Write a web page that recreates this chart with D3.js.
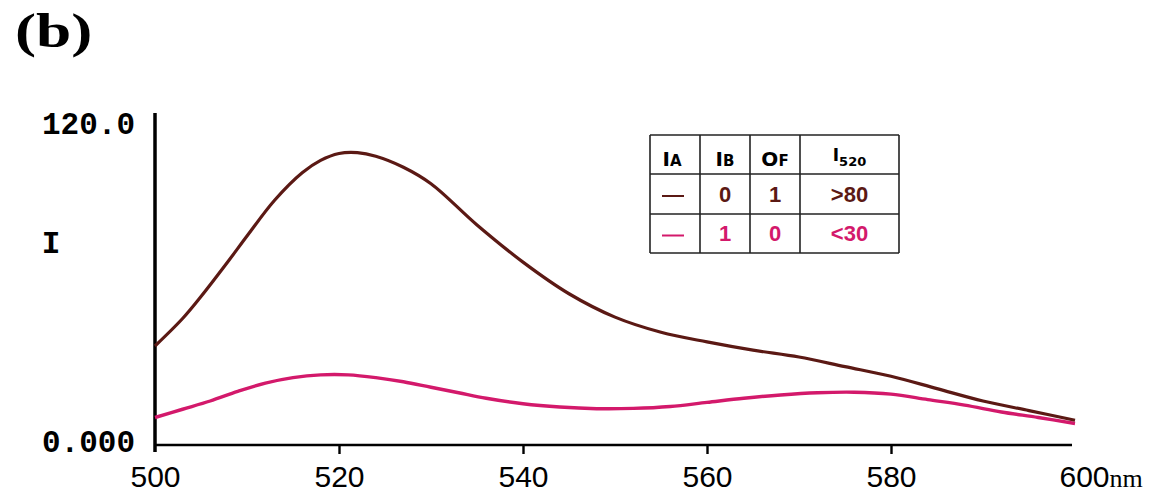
<!DOCTYPE html>
<html>
<head>
<meta charset="utf-8">
<script src="https://cdn.jsdelivr.net/npm/d3@7"></script>
<style>
    body { margin: 0; background: #fff; }
    svg { display: block; }
</style>
</head>
<body>
<svg id="chart"></svg>
<script>
// spectrum readings, wavelength (nm) vs intensity
const brownNm = [500, 503, 505, 508, 510, 513, 516, 518, 520, 522, 524, 527, 530, 535, 540, 545, 550, 555, 560, 565, 570, 575, 580, 585, 590, 595, 600];
const brownI  = [36, 46, 54, 67, 76, 89, 99, 103.5, 106, 106.3, 105, 101, 95, 80, 66.5, 55, 46.5, 41, 37.5, 34.5, 32, 28.5, 25, 20.5, 16, 12.5, 9];

const pinkNm = [500, 503, 506, 509, 512, 515, 518, 521, 524, 527, 530, 533, 536, 540, 544, 548, 552, 556, 560, 564, 568, 572, 576, 580, 584, 588, 592, 596, 600];
const pinkI  = [10, 13, 16, 19.5, 22.5, 24.5, 25.5, 25.5, 24.5, 23, 21, 19, 17, 15, 13.8, 13.2, 13.3, 14, 15.5, 17, 18.2, 19, 19.2, 18.5, 16.5, 14.5, 12, 10, 7.8];

const xTicks = [500, 520, 540, 560, 580, 600];
const yTicks = [0, 120];
const yTickLabels = ['0.000', '120.0'];

// truth table legend
const legendHeader = [['I', 'A'], ['I', 'B'], ['O', 'F'], ['I', '520']];
const legendRows = [
    ['', '0', '1', '>80'],
    ['', '1', '0', '<30']
];

const brown = '#5b1914';
const pink = '#d3196b';

const config = {
    width: 1167,
    height: 502,
    x0: 155, x1: 1075,
    y0: 445, y1: 115
};

const svg = d3.select('#chart')
    .attr('width', config.width)
    .attr('height', config.height);

const xScale = d3.scaleLinear().domain([500, 600]).range([config.x0, config.x1]);
const yScale = d3.scaleLinear().domain([0, 120]).range([config.y0, config.y1]);

// panel label
svg.append('text')
    .attr('transform', 'translate(15,47) scale(1.32,1)')
    .style('font-family', '"Liberation Serif", "Times New Roman", serif')
    .style('font-weight', 700)
    .style('font-size', '48px')
    .text('(b)');

// x axis
const xAxis = d3.axisBottom(xScale)
    .tickValues(xTicks)
    .tickSize(9)
    .tickPadding(12)
    .tickFormat(d => d);

const xAxisG = svg.append('g')
    .attr('transform', `translate(0,${config.y0})`)
    .call(xAxis);

xAxisG.select('.domain').remove();
xAxisG.append('line')
    .attr('x1', config.x0)
    .attr('x2', config.x1 - 3)
    .attr('stroke', '#000')
    .attr('stroke-width', 2.6);
xAxisG.selectAll('.tick line')
    .attr('stroke', '#000')
    .attr('stroke-width', 2.4)
    .style('display', d => (d === 500 || d === 600) ? 'none' : null);
xAxisG.selectAll('.tick text')
    .attr('fill', '#000')
    .style('font-family', '"Liberation Sans", Arial, sans-serif')
    .style('font-size', '30px');
// unit after the last tick
xAxisG.selectAll('.tick text')
    .filter(d => d === 600)
    .attr('text-anchor', 'start')
    .attr('dx', '-16')
    .append('tspan')
    .style('font-family', '"Liberation Serif", serif')
    .style('font-size', '26px')
    .attr('dx', '0')
    .text('nm');

// y axis
const yAxis = d3.axisLeft(yScale)
    .tickValues(yTicks)
    .tickSize(0)
    .tickPadding(20)
    .tickFormat((d, i) => yTickLabels[i]);

const yAxisG = svg.append('g')
    .attr('transform', `translate(${config.x0},0)`)
    .call(yAxis);

yAxisG.select('.domain').remove();
yAxisG.append('line')
    .attr('y1', config.y1 - 2)
    .attr('y2', config.y0 + 7)
    .attr('stroke', '#000')
    .attr('stroke-width', 3.5);
yAxisG.selectAll('.tick text')
    .attr('fill', '#000')
    .attr('dy', d => d === 0 ? '0.2em' : '0.6em')
    .style('font-family', '"Liberation Mono", "Courier New", monospace')
    .style('font-weight', 700)
    .style('font-size', '31px');

// y axis title
svg.append('text')
    .attr('x', 51)
    .attr('y', 242)
    .attr('dy', '0.35em')
    .attr('text-anchor', 'middle')
    .style('font-family', '"Liberation Mono", "Courier New", monospace')
    .style('font-weight', 700)
    .style('font-size', '31px')
    .text('I');

// curves
const line = d3.line()
    .x(d => xScale(d[0]))
    .y(d => yScale(d[1]))
    .curve(d3.curveCatmullRom.alpha(0.5));

svg.append('path')
    .datum(d3.zip(pinkNm, pinkI))
    .attr('fill', 'none')
    .attr('stroke', pink)
    .attr('stroke-width', 3.4)
    .attr('d', line);

svg.append('path')
    .datum(d3.zip(brownNm, brownI))
    .attr('fill', 'none')
    .attr('stroke', brown)
    .attr('stroke-width', 3.2)
    .attr('d', line);

// legend table
const colEdges = [650, 700, 750, 800, 899];
const rowEdges = [135, 174, 214, 253];
const rowColors = [brown, pink];

const legend = svg.append('g');

legend.selectAll('.vline')
    .data(colEdges)
    .join('line')
    .attr('x1', d => d).attr('x2', d => d)
    .attr('y1', rowEdges[0]).attr('y2', rowEdges[rowEdges.length - 1])
    .attr('stroke', '#222')
    .attr('stroke-width', 1.6);

legend.selectAll('.hline')
    .data(rowEdges)
    .join('line')
    .attr('y1', d => d).attr('y2', d => d)
    .attr('x1', colEdges[0]).attr('x2', colEdges[colEdges.length - 1])
    .attr('stroke', '#222')
    .attr('stroke-width', 1.6);

const colCenter = i => (colEdges[i] + colEdges[i + 1]) / 2;

legend.selectAll('.head')
    .data(legendHeader)
    .join('text')
    .attr('x', (d, i) => colCenter(i) - (i === 0 ? 3 : 0))
    .attr('y', 166)
    .attr('text-anchor', 'middle')
    .style('font-family', '"DejaVu Sans", Arial, sans-serif')
    .style('font-weight', 700)
    .each(function (d, i) {
        const t = d3.select(this);
        if (i === 3) {
            t.append('tspan').style('font-size', '17px').attr('dy', -5).text(d[0]);
            t.append('tspan').style('font-size', '13px').attr('dy', 5).text(d[1]);
        } else {
            t.append('tspan').style('font-size', '20px').text(d[0]);
            t.append('tspan').style('font-size', '15px').text(d[1]);
        }
    });

legendRows.forEach((row, r) => {
    const yMid = (rowEdges[r + 1] + rowEdges[r + 2]) / 2;
    legend.append('line')
        .attr('x1', 662).attr('x2', 684)
        .attr('y1', yMid + 2).attr('y2', yMid + 2)
        .attr('stroke', rowColors[r])
        .attr('stroke-width', 2);
    legend.selectAll(`.cell-${r}`)
        .data(row.slice(1))
        .join('text')
        .attr('x', (d, i) => colCenter(i + 1))
        .attr('y', yMid)
        .attr('dy', '0.36em')
        .attr('text-anchor', 'middle')
        .attr('fill', rowColors[r])
        .style('font-family', '"Liberation Sans", Arial, sans-serif')
        .style('font-weight', 700)
        .style('font-size', '22px')
        .text(d => d);
});
</script>
</body>
</html>
